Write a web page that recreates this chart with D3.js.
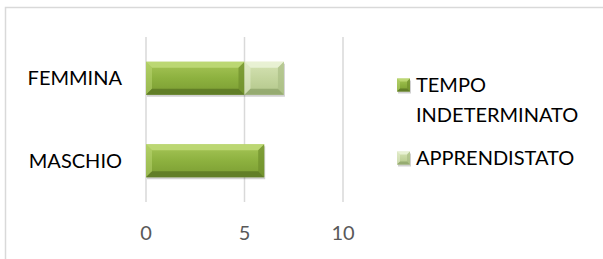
<!DOCTYPE html>
<html>
<head>
<meta charset="utf-8">
<script src="https://cdn.jsdelivr.net/npm/d3@7"></script>
<style>
  body { margin: 0; background: #fff; }
  svg { display: block; font-family: Lato, "Open Sans", sans-serif; }
</style>
</head>
<body>
<div id="chart"></div>
<script>
// data
var categories = ["FEMMINA", "MASCHIO"];
var seriesNames = ["TEMPO INDETERMINATO", "APPRENDISTATO"];
var tempoIndeterminato = [5, 6];
var apprendistato = [2, 0];
var xTicks = [0, 5, 10];

var width = 603, height = 259;

var svg = d3.select("#chart")
  .append("svg")
    .attr("width", width)
    .attr("height", height);

// outer chart frame, runs off the right and bottom edge
svg.append("rect")
  .attr("x", 5.5).attr("y", 7.5)
  .attr("width", 620).attr("height", 280)
  .attr("fill", "none")
  .attr("stroke", "#d9d9d9")
  .attr("stroke-width", 1.5);

var x = d3.scaleLinear().domain([0, 10]).range([146, 343]);
var y = d3.scaleBand().domain(categories).range([37, 202])
  .paddingInner(0.6).paddingOuter(0.3);

// gradients
var defs = svg.append("defs");
function grad(id, stops) {
  var g = defs.append("linearGradient").attr("id", id)
    .attr("x1", 0).attr("y1", 0).attr("x2", 0).attr("y2", 1);
  stops.forEach(function(s) {
    g.append("stop").attr("offset", s[0]).attr("stop-color", s[1]);
  });
}
grad("g0", [[0, "#a7c658"], [0.5, "#8db13f"], [1, "#7a9c32"]]);
grad("g1", [[0, "#d6e3b5"], [0.5, "#c4d59e"], [1, "#b2c68a"]]);

var palettes = [
  { fill: "url(#g0)", light: "#c2dc7a", dark: "#5a7524", side: "#6f8e2c" },
  { fill: "url(#g1)", light: "#eef5dc", dark: "#8fa46a", side: "#a9bd84" }
];

// gridlines
svg.append("g")
  .selectAll("line")
  .data(xTicks)
  .enter()
  .append("line")
    .attr("x1", function(d) { return x(d); })
    .attr("x2", function(d) { return x(d); })
    .attr("y1", 37).attr("y2", 202)
    .attr("stroke", "#d9d9d9")
    .attr("stroke-width", 1.5);

// stack the two series
var rows = categories.map(function(c, i) {
  return { cat: c, v0: tempoIndeterminato[i], v1: apprendistato[i] };
});
var stack = d3.stack().keys(["v0", "v1"]);
var layers = stack(rows);

function bevel(g, x0, x1, y0, y1, pal, b) {
  b = Math.min(b, (x1 - x0) / 2, (y1 - y0) / 2);
  // drop shadow
  g.append("rect")
    .attr("x", x0 + 1).attr("y", y0 + 2)
    .attr("width", x1 - x0).attr("height", y1 - y0)
    .attr("fill", "#000").attr("opacity", 0.18);
  g.append("rect")
    .attr("x", x0).attr("y", y0)
    .attr("width", x1 - x0).attr("height", y1 - y0)
    .attr("fill", pal.fill);
  var poly = function(pts, col, op) {
    g.append("polygon")
      .attr("points", pts.map(function(p) { return p.join(","); }).join(" "))
      .attr("fill", col).attr("opacity", op);
  };
  poly([[x0, y0], [x1, y0], [x1 - b, y0 + b], [x0 + b, y0 + b]], pal.light, 0.8);
  poly([[x0, y0], [x0 + b, y0 + b], [x0 + b, y1 - b], [x0, y1]], pal.light, 0.45);
  poly([[x1, y0], [x1, y1], [x1 - b, y1 - b], [x1 - b, y0 + b]], pal.side, 0.7);
  poly([[x0, y1], [x0 + b, y1 - b], [x1 - b, y1 - b], [x1, y1]], pal.dark, 0.8);
}

layers.forEach(function(layer, li) {
  var g = svg.append("g");
  layer.forEach(function(d, i) {
    if (d[1] - d[0] <= 0) return;
    var y0 = y(categories[i]), y1 = y0 + y.bandwidth();
    bevel(g, x(d[0]), x(d[1]), y0, y1, palettes[li], 6);
  });
});

// category labels
svg.append("g")
  .selectAll("text")
  .data(categories)
  .enter()
  .append("text")
    .attr("x", 122)
    .attr("y", function(d) { return y(d) + y.bandwidth() / 2; })
    .attr("dy", "0.35em")
    .attr("text-anchor", "end")
    .attr("font-size", 20)
    .attr("fill", "#000")
    .text(function(d) { return d; });

// x tick labels
svg.append("g")
  .selectAll("text")
  .data(xTicks)
  .enter()
  .append("text")
    .attr("x", function(d) { return x(d); })
    .attr("y", 232.5)
    .attr("dy", "0.35em")
    .attr("text-anchor", "middle")
    .attr("font-size", 20)
    .attr("fill", "#595959")
    .text(function(d) { return d; });

// legend
var legendRows = [
  { lines: ["TEMPO", "INDETERMINATO"], y: 85, pal: palettes[0] },
  { lines: ["APPRENDISTATO"], y: 158, pal: palettes[1] }
];
legendRows.forEach(function(r) {
  var g = svg.append("g");
  bevel(g, 397, 410, r.y - 6.5, r.y + 6.5, r.pal, 3);
  r.lines.forEach(function(t, k) {
    g.append("text")
      .attr("x", 416)
      .attr("y", r.y + k * 30)
      .attr("dy", "0.35em")
      .attr("font-size", 20)
      .attr("fill", "#000")
      .text(t);
  });
});
</script>
</body>
</html>
